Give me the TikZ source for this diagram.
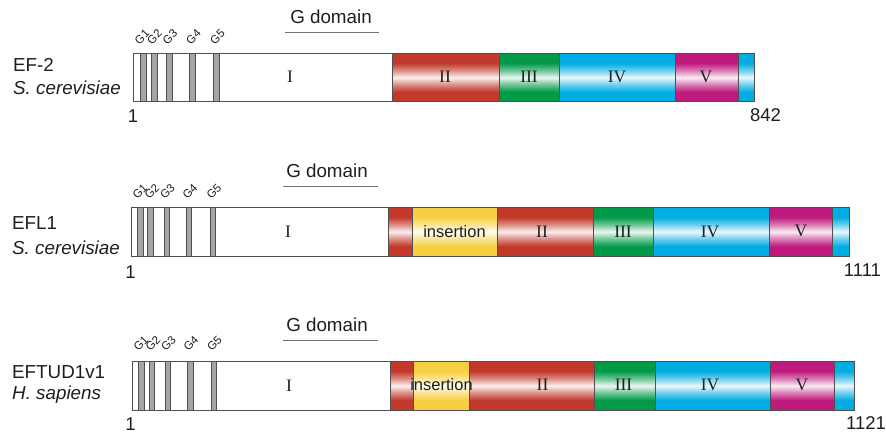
\documentclass[tikz,border=0pt]{standalone}
\usepackage{fontspec}
\setmainfont{Liberation Sans}
\newfontfamily\romanfont{Liberation Serif}
\definecolor{dred}{RGB}{194,56,42}
\definecolor{dgreen}{RGB}{0,154,72}
\definecolor{dcyan}{RGB}{0,172,226}
\definecolor{dmag}{RGB}{190,26,124}
\definecolor{dyel}{RGB}{246,208,66}
\definecolor{outl}{RGB}{80,80,80}
\definecolor{gfill}{RGB}{165,165,165}
\definecolor{txt}{RGB}{30,30,30}
\newcommand\mkband[1]{\pgfdeclareverticalshading{band#1}{100bp}{color(0bp)=(#1); color(35bp)=(#1); color(43bp)=(#1!55!white); color(50bp)=(#1!8!white); color(57bp)=(#1!55!white); color(65bp)=(#1); color(100bp)=(#1)}}
\mkband{dred}\mkband{dgreen}\mkband{dcyan}\mkband{dmag}\mkband{dyel}
\newcommand\domseg[5]{\draw[shading=band#1,draw=outl,line width=0.7pt] (#2,#3) rectangle (#4,#5);}
\newcommand\gseg[3]{\draw[gbar] (#1,#2) rectangle ++(5.5,#3);}
\begin{document}
\begin{tikzpicture}[x=1pt,y=-1pt,
  lab/.style={font=\fontsize{18.8}{20}\selectfont,text=txt,inner sep=0pt},
  itlab/.style={font=\fontsize{18.8}{20}\selectfont\itshape,text=txt,inner sep=0pt},
  numlab/.style={font=\fontsize{18.5}{20}\selectfont,text=txt,inner sep=0pt},
  rom/.style={font=\fontsize{17.5}{19}\selectfont\romanfont,text=txt,inner sep=0pt},
  ins/.style={font=\fontsize{16.5}{18}\selectfont,text=txt,inner sep=0pt},
  glab/.style={font=\fontsize{11.5}{13}\selectfont,text=txt,inner sep=0pt,rotate=45},
  gdom/.style={font=\fontsize{18.8}{20}\selectfont,text=txt,inner sep=0pt},
  gline/.style={draw=gray!90!black,line width=1.3pt},
  boxI/.style={draw=outl,fill=white,line width=0.7pt},
  gbar/.style={draw=outl,fill=gfill,line width=0.6pt}]
\useasboundingbox (0,0) rectangle (886,434);

% ---------------- Row 1 ----------------
\draw[boxI] (133,53.5) rectangle (392,101.5);
\gseg{140.7}{53.5}{48}
\gseg{151.5}{53.5}{48}
\gseg{166.7}{53.5}{48}
\gseg{189.5}{53.5}{48}
\gseg{213.5}{53.5}{48}
\domseg{dred}{392}{53.5}{499}{101.5}
\domseg{dgreen}{499}{53.5}{559}{101.5}
\domseg{dcyan}{559}{53.5}{675}{101.5}
\domseg{dmag}{675}{53.5}{738}{101.5}
\domseg{dcyan}{738}{53.5}{754}{101.5}
\node[rom] (r1I) at (290,77) {I};
\node[rom] (r1II) at (445,77) {II};
\node[rom] (r1III) at (529,77) {III};
\node[rom] (r1IV) at (617,77) {IV};
\node[rom] (r1V) at (706,77) {V};
\node[glab] (r1g1) at (142,37) {G1};
\node[glab] (r1g2) at (154.5,37) {G2};
\node[glab] (r1g3) at (170,37) {G3};
\node[glab] (r1g4) at (193.5,37) {G4};
\node[glab] (r1g5) at (217.5,37) {G5};
\node[gdom] (r1gd) at (331,17) {G domain};
\draw[gline] (285,32.3) -- (379,32.3);
\node[lab,anchor=west] (r1n) at (13,65) {EF-2};
\node[itlab,anchor=west] (r1s) at (13,88) {S. cerevisiae};
\node[numlab] (r1a) at (133,116) {1};
\node[numlab] (r1b) at (765.5,115.5) {842};

% ---------------- Row 2 ----------------
\draw[boxI] (131,207.5) rectangle (388.5,256);
\gseg{137.3}{207.5}{48.5}
\gseg{147.5}{207.5}{48.5}
\gseg{164}{207.5}{48.5}
\gseg{186.2}{207.5}{48.5}
\gseg{210}{207.5}{48.5}
\domseg{dred}{388.5}{207.5}{412.5}{256}
\domseg{dyel}{412.5}{207.5}{497}{256}
\domseg{dred}{497}{207.5}{593.5}{256}
\domseg{dgreen}{593.5}{207.5}{653.5}{256}
\domseg{dcyan}{653.5}{207.5}{769.5}{256}
\domseg{dmag}{769.5}{207.5}{832.5}{256}
\domseg{dcyan}{832.5}{207.5}{849}{256}
\node[rom] (r2I) at (288,232) {I};
\node[ins] (r2ins) at (454.5,231.5) {insertion};
\node[rom] (r2II) at (542,231.5) {II};
\node[rom] (r2III) at (623,231.5) {III};
\node[rom] (r2IV) at (710,231.5) {IV};
\node[rom] (r2V) at (801,231) {V};
\node[glab] (r2g1) at (140,191.5) {G1};
\node[glab] (r2g2) at (152,191.5) {G2};
\node[glab] (r2g3) at (167.5,191.5) {G3};
\node[glab] (r2g4) at (190,191.5) {G4};
\node[glab] (r2g5) at (214,191.5) {G5};
\node[gdom] (r2gd) at (327,171) {G domain};
\draw[gline] (283,186.3) -- (378,186.3);
\node[lab,anchor=west] (r2n) at (12,223) {EFL1};
\node[itlab,anchor=west] (r2s) at (12,248) {S. cerevisiae};
\node[numlab] (r2a) at (130.5,272) {1};
\node[numlab] (r2b) at (862.5,270) {1111};

% ---------------- Row 3 ----------------
\draw[boxI] (132,361.5) rectangle (390,410);
\gseg{138.3}{361.5}{48.5}
\gseg{149.2}{361.5}{48.5}
\gseg{165}{361.5}{48.5}
\gseg{187.7}{361.5}{48.5}
\gseg{210.8}{361.5}{48.5}
\domseg{dred}{390}{361.5}{413.5}{410}
\domseg{dyel}{413.5}{361.5}{469}{410}
\domseg{dred}{469}{361.5}{594.5}{410}
\domseg{dcyan}{655}{361.5}{770.5}{410}
\domseg{dgreen}{594.5}{361.5}{655}{410}
\domseg{dmag}{770.5}{361.5}{834}{410}
\domseg{dcyan}{834}{361.5}{854}{410}
\node[rom] (r3I) at (289,386) {I};
\node[ins] (r3ins) at (441.5,385) {insertion};
\node[rom] (r3II) at (542.5,385) {II};
\node[rom] (r3III) at (623.5,385) {III};
\node[rom] (r3IV) at (710,385) {IV};
\node[rom] (r3V) at (802,384.5) {V};
\node[glab] (r3g1) at (141,343.5) {G1};
\node[glab] (r3g2) at (153,343.5) {G2};
\node[glab] (r3g3) at (168.5,343.5) {G3};
\node[glab] (r3g4) at (191,343.5) {G4};
\node[glab] (r3g5) at (214.5,343.5) {G5};
\node[gdom] (r3gd) at (327,325) {G domain};
\draw[gline] (283,340.3) -- (378,340.3);
\node[lab,anchor=west] (r3n) at (12,372) {EFTUD1v1};
\node[itlab,anchor=west] (r3s) at (12,395) {H. sapiens};
\node[numlab] (r3a) at (130.5,424.5) {1};
\node[numlab] (r3b) at (866,423.5) {1121};
\end{tikzpicture}
\end{document}
